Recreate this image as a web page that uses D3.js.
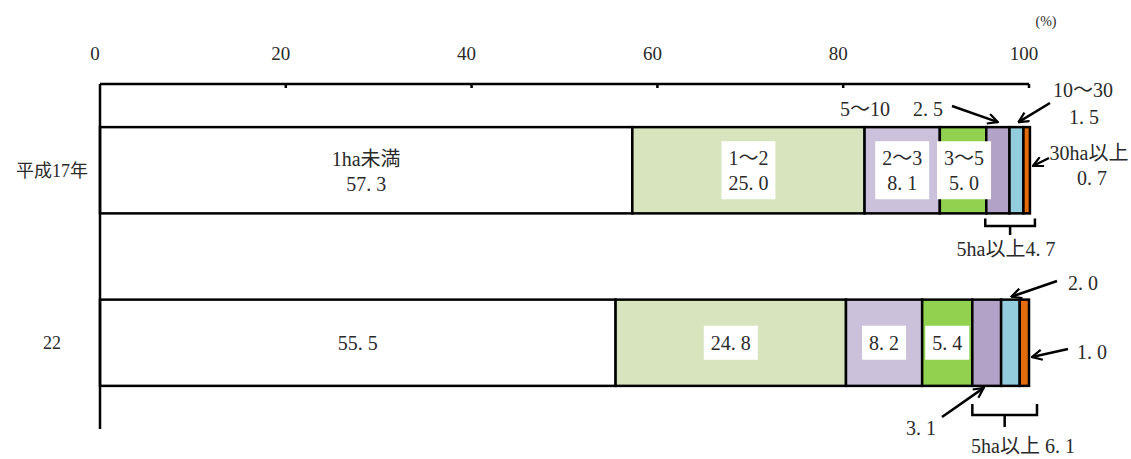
<!DOCTYPE html>
<html><head><meta charset="utf-8">
<script src="https://cdn.jsdelivr.net/npm/d3@7"></script>
<style>
html,body{margin:0;padding:0;background:#fff;}
text{font-family:"Liberation Serif","Noto Sans CJK JP",serif;fill:#2a2a2a;}
</style></head>
<body><svg id="c" width="1131" height="459"></svg>
<script>
const categories = ["平成17年", "22"];
const sizeClasses = ["1ha未満", "1～2", "2～3", "3～5", "5～10", "10～30", "30ha以上"];
const values2005 = [57.3, 25.0, 8.1, 5.0, 2.5, 1.5, 0.7];
const values2010 = [55.5, 24.8, 8.2, 5.4, 3.1, 2.0, 1.0];
const tickValues = [0, 20, 40, 60, 80, 100];
const colors = ["#FFFFFF", "#D7E4BD", "#CCC1DA", "#92D050", "#B3A2C7", "#93CDDD", "#E46C0A"];
const over5_2005 = 4.7, over5_2010 = 6.1;

const FS = 20;
const svg = d3.select("#c");
const x = d3.scaleLinear().domain([0, 100]).range([100, 1029]);
const y = d3.scaleBand().domain(categories).range([84, 429]).paddingInner(0.5).paddingOuter(0.25);

svg.append("defs").append("marker")
  .attr("id", "arr").attr("viewBox", "0 0 12 12").attr("refX", 11).attr("refY", 6)
  .attr("markerWidth", 12).attr("markerHeight", 12).attr("markerUnits", "userSpaceOnUse")
  .attr("orient", "auto")
  .append("path").attr("d", "M1,1 L11,6 L1,11").attr("fill", "none").attr("stroke", "#000").attr("stroke-width", 2.2);

// stacked data
const series = [values2005, values2010].map((vals, i) => {
  let acc = 0;
  return vals.map((v, j) => { const s = {cat: categories[i], k: j, v, x0: acc, x1: acc + v}; acc += v; return s; });
});

// bars
const g = svg.append("g");
series.forEach(row => {
  g.selectAll(null).data(row).enter().append("rect")
    .attr("x", d => x(d.x0)).attr("width", d => x(d.x1) - x(d.x0))
    .attr("y", d => y(d.cat)).attr("height", y.bandwidth())
    .attr("fill", d => colors[d.k]).attr("stroke", "#000").attr("stroke-width", 2.5);
});

// axes
const axisY = 84;
svg.append("line").attr("x1", x(0)).attr("x2", x(100)).attr("y1", axisY).attr("y2", axisY)
  .attr("stroke", "#000").attr("stroke-width", 2.5);
svg.append("line").attr("x1", x(0)).attr("x2", x(0)).attr("y1", axisY).attr("y2", 429)
  .attr("stroke", "#000").attr("stroke-width", 2.5);
svg.selectAll(".tk").data(tickValues.slice(1)).enter().append("line")
  .attr("x1", d => x(d)).attr("x2", d => x(d)).attr("y1", axisY).attr("y2", axisY + 4)
  .attr("stroke", "#000").attr("stroke-width", 2.5);
svg.selectAll(".tl").data(tickValues).enter().append("text")
  .attr("x", d => x(d) - 5).attr("y", 53).attr("dy", "0.35em").attr("text-anchor", "middle")
  .attr("font-size", 19).text(d => d);
svg.append("text").attr("x", 1046).attr("y", 21).attr("dy", "0.35em").attr("text-anchor", "middle")
  .attr("font-size", 14).text("(%)");

// category labels
svg.selectAll(".cl").data(categories).enter().append("text")
  .attr("x", 52).attr("y", d => y(d) + y.bandwidth() / 2).attr("dy", "0.35em")
  .attr("text-anchor", "middle").attr("font-size", 18).text(d => d);

// writes a string; a number "a.b" gets a small gap after the decimal point (Mincho look)
function fill(t, s) {
  const m = s.match(/^(.*?)(\d+\.)(\d+)$/);
  if (!m) { t.text(s); return; }
  t.append("tspan").text(m[1] + m[2]);
  t.append("tspan").attr("dx", 5).text(m[3]);
}
const fmt = v => v.toFixed(1);

// in-bar labels with white boxes
function boxedLabel(cx, cy, lines, boxed) {
  const gg = svg.append("g");
  const lh = 25;
  const t0 = cy - (lines.length - 1) * lh / 2;
  const texts = lines.map((s, i) => {
    const t = gg.append("text").attr("x", cx).attr("y", t0 + i * lh)
      .attr("dy", "0.35em").attr("text-anchor", "middle").attr("font-size", FS);
    fill(t, s);
    return t;
  });
  if (boxed) {
    let x0 = 1e9, x1 = -1e9;
    texts.forEach(t => { const b = t.node().getBBox(); x0 = Math.min(x0, b.x); x1 = Math.max(x1, b.x + b.width); });
    const padY = lines.length > 1 ? 29 : 17;
    gg.insert("rect", "text").attr("x", x0 - 7).attr("width", x1 - x0 + 14)
      .attr("y", cy - padY).attr("height", padY * 2).attr("fill", "#fff");
  }
}
const r1 = series[0], r2 = series[1];
const mid = d => (x(d.x0) + x(d.x1)) / 2;
const c1 = y(categories[0]) + y.bandwidth() / 2, c2 = y(categories[1]) + y.bandwidth() / 2;
boxedLabel(mid(r1[0]), c1 + 1, [sizeClasses[0], fmt(r1[0].v)], false);
boxedLabel(mid(r1[1]), c1, [sizeClasses[1], fmt(r1[1].v)], true);
boxedLabel(mid(r1[2]), c1, [sizeClasses[2], fmt(r1[2].v)], true);
boxedLabel(mid(r1[3]) + 1, c1, [sizeClasses[3], fmt(r1[3].v)], true);
boxedLabel(mid(r2[0]), c2, [fmt(r2[0].v)], false);
boxedLabel(mid(r2[1]), c2, [fmt(r2[1].v)], true);
boxedLabel(mid(r2[2]), c2, [fmt(r2[2].v)], true);
boxedLabel(mid(r2[3]), c2, [fmt(r2[3].v)], true);

// annotations
function txt(cx, cy, s) {
  const t = svg.append("text").attr("x", cx).attr("y", cy).attr("dy", "0.35em").attr("text-anchor", "middle")
    .attr("font-size", FS);
  fill(t, s);
}
function arrow(xa, ya, xb, yb) {
  svg.append("line").attr("x1", xa).attr("y1", ya).attr("x2", xb).attr("y2", yb)
    .attr("stroke", "#000").attr("stroke-width", 2.5).attr("marker-end", "url(#arr)");
}
function bracket(xl, xr, yt, yh, cx, yb) {
  svg.append("path").attr("d", `M${xl},${yt} L${xl},${yh} L${xr},${yh} L${xr},${yt} M${cx},${yh} L${cx},${yb}`)
    .attr("fill", "none").attr("stroke", "#000").attr("stroke-width", 2.5);
}
const top1 = y(categories[0]), bot1 = top1 + y.bandwidth();
const top2 = y(categories[1]), bot2 = top2 + y.bandwidth();

// 2005
txt(865, 109, sizeClasses[4]);
txt(928, 109, fmt(r1[4].v));
arrow(952, 106, mid(r1[4]), top1 - 5);
txt(1083, 90, sizeClasses[5]);
txt(1084, 117, fmt(r1[5].v));
arrow(1050, 103, mid(r1[5]) + 2, top1 - 5);
txt(1089, 153, sizeClasses[6]);
txt(1092, 178, fmt(r1[6].v));
arrow(1049, 158, x(r1[6].x1) + 3, 166);
bracket(x(r1[4].x0) - 1, x(r1[6].x1) + 5, bot1 + 5, 226, (x(r1[4].x0) + x(r1[6].x1) + 4) / 2, 235);
txt(1006, 249, "5ha以上" + fmt(over5_2005));

// 2010
txt(1083, 283, fmt(r2[5].v));
arrow(1057, 281, mid(r2[5]) + 1, top2 - 3);
txt(1092, 352, fmt(r2[6].v));
arrow(1068, 349, x(r2[6].x1) + 3, 357);
txt(921, 428, fmt(r2[4].v));
arrow(942, 417, mid(r2[4]) - 3, bot2 + 2);
bracket(x(r2[4].x0), x(r2[6].x1) + 8, 404, 415, (x(r2[4].x0) + x(r2[6].x1) + 8) / 2, 427);
txt(1023, 446, "5ha以上 " + fmt(over5_2010));
</script></body></html>
